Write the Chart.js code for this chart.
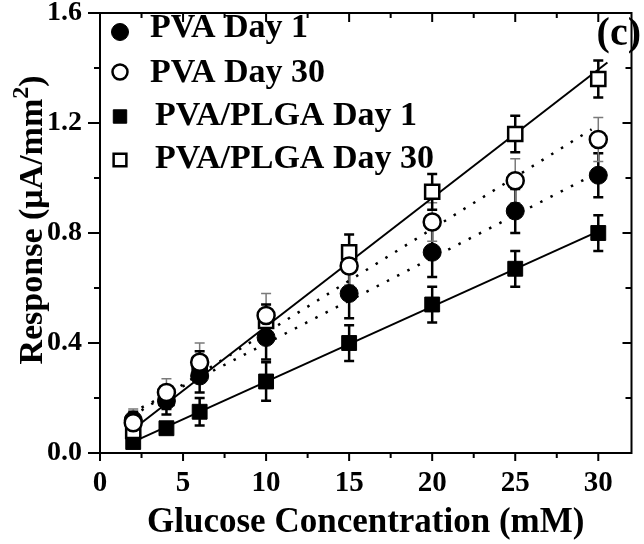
<!DOCTYPE html>
<html>
<head>
<meta charset="utf-8">
<script src="https://cdn.jsdelivr.net/npm/chart.js@4/dist/chart.umd.min.js"></script>
<style>
html, body { margin: 0; padding: 0; background: white; }
</style>
</head>
<body>
<canvas id="myChart" width="644" height="544"></canvas>
<script>
const concentrations = [2, 4, 6, 10, 15, 20, 25, 30];
const pvaDay1 = [0.12, 0.19, 0.28, 0.42, 0.58, 0.73, 0.88, 1.01];
const pvaDay1Err = [0.03, 0.05, 0.06, 0.08, 0.09, 0.09, 0.08, 0.08];
const pvaDay30 = [0.11, 0.22, 0.33, 0.50, 0.68, 0.84, 0.99, 1.14];
const pvaDay30Err = [0.05, 0.05, 0.07, 0.08, 0.07, 0.07, 0.08, 0.08];
const plgaDay1 = [0.04, 0.09, 0.15, 0.26, 0.40, 0.54, 0.67, 0.80];
const plgaDay1Err = [0.02, 0.02, 0.05, 0.07, 0.065, 0.065, 0.065, 0.065];
const plgaDay30 = [0.08, 0.20, 0.32, 0.48, 0.73, 0.95, 1.16, 1.36];
const plgaDay30Err = [0.03, 0.04, 0.05, 0.06, 0.065, 0.065, 0.066, 0.067];

// fitted lines (start and end points)
const fitPvaDay1X = [2.5, 29.5];
const fitPvaDay1Y = [0.165, 1.005];
const fitPvaDay30X = [2.5, 29.6];
const fitPvaDay30Y = [0.155, 1.177];
const fitPlgaDay1X = [2.16, 30];
const fitPlgaDay1Y = [0.045, 0.806];
const fitPlgaDay30X = [1.86, 30.55];
const fitPlgaDay30Y = [0.08, 1.42];

const xTicks = [0, 5, 10, 15, 20, 25, 30];
const yTicks = [0.0, 0.4, 0.8, 1.2, 1.6];
const xMinorTicks = [2.5, 7.5, 12.5, 17.5, 22.5, 27.5];
const yMinorTicks = [0.2, 0.6, 1.0, 1.4];

const serif = "'Liberation Serif', 'Times New Roman', serif";

const pts = (xs, ys) => xs.map((x, i) => ({x: x, y: ys[i]}));

function fitLine(xs, ys, dashed, order) {
    return {
        label: '', data: pts(xs, ys), showLine: true, pointRadius: 0,
        borderColor: 'black', borderWidth: dashed ? 2.5 : 2,
        borderDash: dashed ? [2.5, 9] : [], fill: false, order: order, isFit: true
    };
}

const errorBars = {
    id: 'errorBars',
    beforeDatasetsDraw(chart) {
        const ctx = chart.ctx;
        const x = chart.scales.x, y = chart.scales.y;
        chart.data.datasets.forEach(ds => {
            if (!ds.errors) return;
            ctx.save();
            ctx.strokeStyle = ds.errColor;
            ctx.lineWidth = ds.errWidth;
            ds.data.forEach((p, i) => {
                const px = x.getPixelForValue(p.x);
                const top = y.getPixelForValue(p.y + ds.errors[i]);
                const bot = y.getPixelForValue(p.y - ds.errors[i]);
                ctx.beginPath();
                ctx.moveTo(px, top); ctx.lineTo(px, bot);
                ctx.moveTo(px - 5, top); ctx.lineTo(px + 5, top);
                ctx.moveTo(px - 5, bot); ctx.lineTo(px + 5, bot);
                ctx.stroke();
            });
            ctx.restore();
        });
    }
};

const frameAndText = {
    id: 'frameAndText',
    afterDraw(chart) {
        const ctx = chart.ctx;
        const a = chart.chartArea;
        const x = chart.scales.x, y = chart.scales.y;
        ctx.save();
        ctx.strokeStyle = 'black';
        ctx.lineWidth = 2;
        ctx.strokeRect(a.left, a.top, a.right - a.left, a.bottom - a.top);
        ctx.beginPath();
        xTicks.forEach(v => {
            const px = x.getPixelForValue(v);
            ctx.moveTo(px, a.bottom); ctx.lineTo(px, a.bottom + 8);
            ctx.moveTo(px, a.top); ctx.lineTo(px, a.top + 9);
        });
        xMinorTicks.forEach(v => {
            const px = x.getPixelForValue(v);
            ctx.moveTo(px, a.bottom); ctx.lineTo(px, a.bottom + 5);
            ctx.moveTo(px, a.top); ctx.lineTo(px, a.top + 5);
        });
        yTicks.forEach(v => {
            const py = y.getPixelForValue(v);
            ctx.moveTo(a.left, py); ctx.lineTo(a.left - 12, py);
            ctx.moveTo(a.right, py); ctx.lineTo(a.right - 9, py);
        });
        yMinorTicks.forEach(v => {
            const py = y.getPixelForValue(v);
            ctx.moveTo(a.left, py); ctx.lineTo(a.left - 6, py);
            ctx.moveTo(a.right, py); ctx.lineTo(a.right - 6, py);
        });
        ctx.stroke();

        // legend
        const rows = [32, 72, 116.5, 160];
        const baselines = [36.7, 81.7, 125, 168];
        const textX = [150, 150, 155, 155];
        chart.data.datasets.filter(ds => !ds.isFit).forEach((ds, i) => {
            ctx.fillStyle = ds.backgroundColor;
            ctx.strokeStyle = ds.borderColor;
            ctx.lineWidth = ds.borderWidth;
            Chart.helpers.drawPoint(ctx, {
                pointStyle: ds.pointStyle, radius: ds.legendRadius,
                borderWidth: ds.borderWidth, rotation: 0
            }, 120, rows[i]);
            ctx.fillStyle = 'black';
            ctx.font = 'bold 34px ' + serif;
            ctx.textAlign = 'left';
            ctx.textBaseline = 'alphabetic';
            ctx.fillText(ds.label, textX[i], baselines[i]);
        });

        // panel label
        ctx.font = 'bold 40px ' + serif;
        ctx.textAlign = 'right';
        ctx.fillText('(c)', 641, 45);

        // y axis title with superscript
        ctx.translate(42, 220);
        ctx.rotate(-Math.PI / 2);
        const mainFont = 'bold 34px ' + serif;
        const supFont = 'bold 24px ' + serif;
        const t1 = 'Response (\u03bcA/mm', t2 = '2', t3 = ')';
        ctx.font = mainFont;
        const w1 = ctx.measureText(t1).width, w3 = ctx.measureText(t3).width;
        ctx.font = supFont;
        const w2 = ctx.measureText(t2).width;
        let sx = -(w1 + w2 + w3) / 2;
        ctx.textAlign = 'left';
        ctx.font = mainFont;
        ctx.fillText(t1, sx, 0);
        ctx.font = supFont;
        ctx.fillText(t2, sx + w1, -14);
        ctx.font = mainFont;
        ctx.fillText(t3, sx + w1 + w2, 0);
        ctx.restore();
    }
};

const ctx = document.getElementById('myChart').getContext('2d');
const myChart = new Chart(ctx, {
    type: 'scatter',
    data: {
        datasets: [
            {
                label: 'PVA Day 1', data: pts(concentrations, pvaDay1), errors: pvaDay1Err,
                errColor: 'black', errWidth: 2.5,
                pointStyle: 'circle', pointRadius: 9, legendRadius: 8.5,
                backgroundColor: 'black', borderColor: 'black', borderWidth: 1, order: 2
            },
            {
                label: 'PVA Day 30', data: pts(concentrations, pvaDay30), errors: pvaDay30Err,
                errColor: '#7a7a7a', errWidth: 1.5,
                pointStyle: 'circle', pointRadius: 8.5, legendRadius: 7.5,
                backgroundColor: 'white', borderColor: 'black', borderWidth: 2.5, order: 1
            },
            {
                label: 'PVA/PLGA Day 1', data: pts(concentrations, plgaDay1), errors: plgaDay1Err,
                errColor: 'black', errWidth: 2.5,
                pointStyle: 'rect', pointRadius: 10.5, legendRadius: 9.5,
                backgroundColor: 'black', borderColor: 'black', borderWidth: 1, order: 4
            },
            {
                label: 'PVA/PLGA Day 30', data: pts(concentrations, plgaDay30), errors: plgaDay30Err,
                errColor: 'black', errWidth: 2.5,
                pointStyle: 'rect', pointRadius: 10, legendRadius: 9,
                backgroundColor: 'white', borderColor: 'black', borderWidth: 2.5, order: 3
            },
            fitLine(fitPvaDay1X, fitPvaDay1Y, true, 10),
            fitLine(fitPvaDay30X, fitPvaDay30Y, true, 10),
            fitLine(fitPlgaDay1X, fitPlgaDay1Y, false, 10),
            fitLine(fitPlgaDay30X, fitPlgaDay30Y, false, 10)
        ]
    },
    options: {
        responsive: false,
        animation: false,
        layout: { padding: { top: 13, right: 2, left: 0, bottom: 0 } },
        plugins: {
            legend: { display: false },
            tooltip: { enabled: false }
        },
        scales: {
            x: {
                type: 'linear', min: 0, max: 32,
                afterBuildTicks: s => { s.ticks = xTicks.map(v => ({value: v})); },
                afterFit: s => { s.height = 91; s.paddingLeft = 0; s.paddingRight = 0; },
                grid: { display: false, drawTicks: false },
                border: { display: false },
                ticks: {
                    padding: 13, color: 'black', maxRotation: 0,
                    font: { family: serif, size: 29, weight: 'bold' }
                },
                title: {
                    display: true, text: 'Glucose Concentration (mM)', color: 'black',
                    padding: { top: 0, bottom: 0 },
                    font: { family: serif, size: 35, weight: 'bold' }
                }
            },
            y: {
                type: 'linear', min: 0, max: 1.6,
                afterBuildTicks: s => { s.ticks = yTicks.map(v => ({value: v})); },
                afterFit: s => { s.width = 100; s.paddingTop = 0; s.paddingBottom = 0; },
                grid: { display: false, drawTicks: false },
                border: { display: false },
                ticks: {
                    padding: 18, color: 'black',
                    font: { family: serif, size: 28, weight: 'bold' },
                    callback: v => v.toFixed(1)
                }
            }
        }
    },
    plugins: [errorBars, frameAndText, {
        id: 'background-colour',
        beforeDraw: (chart) => {
            const c = chart.ctx;
            c.save();
            c.fillStyle = 'white';
            c.fillRect(0, 0, chart.width, chart.height);
            c.restore();
        }
    }]
});
</script>
</body>
</html>
